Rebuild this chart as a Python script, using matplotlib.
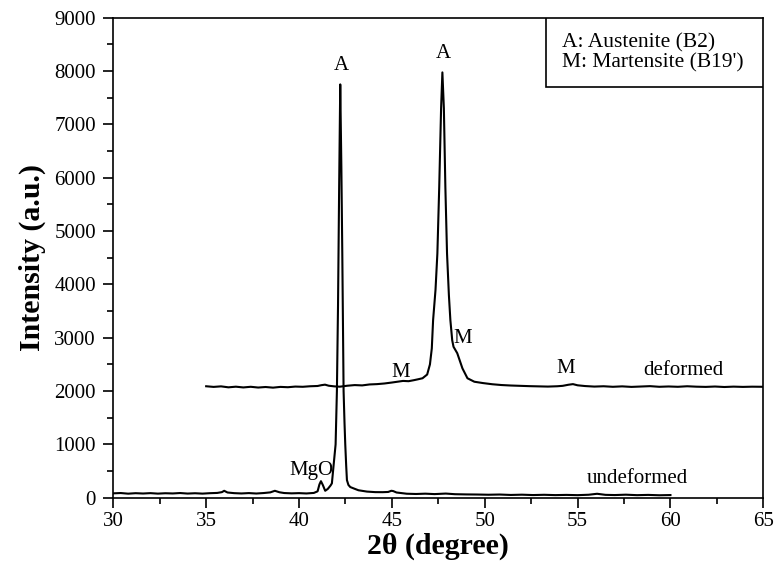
import matplotlib
matplotlib.use("Agg")
import matplotlib.pyplot as plt
from matplotlib.patches import Rectangle
from matplotlib.ticker import MultipleLocator

plt.rcParams['font.family'] = ['Liberation Serif', 'DejaVu Serif']

# Undeformed sample pattern (2-theta in degrees, intensity in counts)
undeformed_2theta = [
    30.0, 30.4, 30.8, 31.2, 31.6, 32.0, 32.4, 32.8, 33.2, 33.6, 34.0, 34.4, 34.8,
    35.2, 35.6, 35.85, 35.97, 36.15, 36.5, 36.9, 37.3, 37.7, 38.1, 38.45, 38.7,
    38.95, 39.2, 39.6, 40.0, 40.4, 40.8, 41.0, 41.1, 41.18, 41.28, 41.41, 41.55,
    41.7, 41.77, 41.86, 41.97, 42.04, 42.1, 42.16, 42.22, 42.28, 42.33, 42.4,
    42.45, 42.49, 42.54, 42.58, 42.66, 42.76, 42.94, 43.2, 43.66, 44.1,
    44.5, 44.8, 44.97, 45.07, 45.25, 45.8, 46.3, 46.8, 47.3, 47.9, 48.4, 49.0,
    49.6, 50.2, 50.8, 51.4, 52.0, 52.6, 53.2, 53.8, 54.4, 55.0, 55.6, 56.05,
    56.5, 57.0, 57.6, 58.2, 58.8, 59.4, 60.0,
]
undeformed_intensity = [
    82, 88, 76, 85, 79, 86, 77, 84, 80, 88, 78, 84, 77,
    85, 90, 105, 130, 98, 86, 80, 87, 79, 88, 100, 130,
    102, 88, 82, 86, 80, 90, 120, 250, 310, 240, 130, 165,
    230, 270, 600, 1000, 2000, 3600, 5800, 7750, 6200, 4590, 2000,
    1400, 1000, 600, 330, 240, 200, 175, 140, 115, 105,
    104, 108, 130, 125, 98, 75, 70, 76, 68, 78, 66, 62,
    60, 56, 60, 52, 57, 50, 55, 49, 53, 48, 56, 74,
    54, 50, 57, 48, 53, 46, 50,
]

# Deformed sample pattern, shifted upward on the intensity axis
deformed_2theta = [
    35.0, 35.4, 35.8, 36.2, 36.6, 37.0, 37.4, 37.8, 38.2, 38.6, 39.0, 39.4, 39.8,
    40.2, 40.6, 41.0, 41.2, 41.4, 41.6, 41.9, 42.2, 42.6, 43.0, 43.4, 43.8, 44.2,
    44.6, 45.0, 45.3, 45.6, 45.9, 46.2, 46.4, 46.65, 46.9, 47.05, 47.15, 47.22,
    47.35, 47.45, 47.55, 47.65, 47.72, 47.8, 47.88, 47.97, 48.07, 48.15, 48.25,
    48.32, 48.52, 48.8, 49.07, 49.44, 49.9, 50.4, 50.9, 51.4, 51.9,
    52.4, 52.9, 53.4, 53.9, 54.2, 54.5, 54.75, 55.0, 55.4, 55.9, 56.4, 56.9, 57.4,
    57.9, 58.4, 58.9, 59.4, 59.9, 60.4, 60.9, 61.4, 61.9, 62.4, 62.9, 63.4, 63.9,
    64.4, 65.0,
]
deformed_intensity = [
    2090, 2078, 2088, 2070, 2082, 2068, 2080, 2066, 2076, 2064, 2078, 2072, 2084,
    2080, 2090, 2095, 2110, 2120, 2100, 2088, 2082, 2100, 2112, 2106, 2124, 2130,
    2142, 2160, 2175, 2190, 2185, 2205, 2220, 2240, 2310, 2500, 2800, 3330,
    3900, 4580, 5830, 7300, 7975, 7300, 5830, 4580, 3800, 3330, 2950,
    2830, 2710, 2425, 2240, 2175, 2150, 2128, 2113, 2104, 2098,
    2092, 2088, 2084, 2090, 2098, 2118, 2130, 2108, 2094, 2084, 2090, 2080, 2088,
    2078, 2085, 2092, 2080, 2086, 2080, 2090, 2082, 2078, 2085, 2076, 2083, 2078,
    2082, 2080,
]

# Peak and curve annotations: (label, 2-theta, intensity at text baseline)
annotations = [
    ("A", 42.3, 8020),
    ("A", 47.75, 8250),
    ("M", 45.46, 2269),
    ("M", 48.83, 2906),
    ("M", 54.35, 2333),
    ("MgO", 40.66, 425),
    ("deformed", 60.71, 2300),
    ("undeformed", 58.24, 270),
]

legend_lines = ["A: Austenite (B2)", "M: Martensite (B19')"]

fig = plt.figure(figsize=(7.75, 5.7), dpi=100)
ax = fig.add_axes([0.1462, 0.1268, 0.8387, 0.8421])

ax.plot(undeformed_2theta, undeformed_intensity, color='black', lw=1.5)
ax.plot(deformed_2theta, deformed_intensity, color='black', lw=1.5)

for label, x, y in annotations:
    ax.text(x, y, label, ha='center', va='baseline', fontsize=15)

ax.set_xlim(30, 65)
ax.set_ylim(0, 9000)
ax.xaxis.set_major_locator(MultipleLocator(5))
ax.xaxis.set_minor_locator(MultipleLocator(2.5))
ax.yaxis.set_major_locator(MultipleLocator(1000))
ax.yaxis.set_minor_locator(MultipleLocator(500))
ax.tick_params(which='both', direction='out', top=False, right=False,
               width=1.2, labelsize=15)
ax.tick_params(which='major', length=7)
ax.tick_params(which='minor', length=4.2)
ax.tick_params(axis='y', which='major', pad=5.5)
ax.tick_params(axis='x', which='major', pad=3.6)
for s in ax.spines.values():
    s.set_linewidth(1.2)

ax.set_xlabel("2θ (degree)", fontsize=21.5, fontweight='bold', labelpad=1)
ax.set_ylabel("Intensity (a.u.)", fontsize=21.5, fontweight='bold', labelpad=6)

# Phase key box in the upper-right corner
ax.add_patch(Rectangle((0.665, 0.8565), 0.335, 0.1435, transform=ax.transAxes,
                       facecolor='white', edgecolor='black', linewidth=1.2,
                       zorder=3))
ax.text(0.690, 0.937, legend_lines[0], transform=ax.transAxes, ha='left',
        va='baseline', fontsize=15.5, zorder=4)
ax.text(0.690, 0.8966, legend_lines[1], transform=ax.transAxes, ha='left',
        va='baseline', fontsize=15.5, zorder=4)

fig.savefig("out.png", dpi=100, facecolor='white')
